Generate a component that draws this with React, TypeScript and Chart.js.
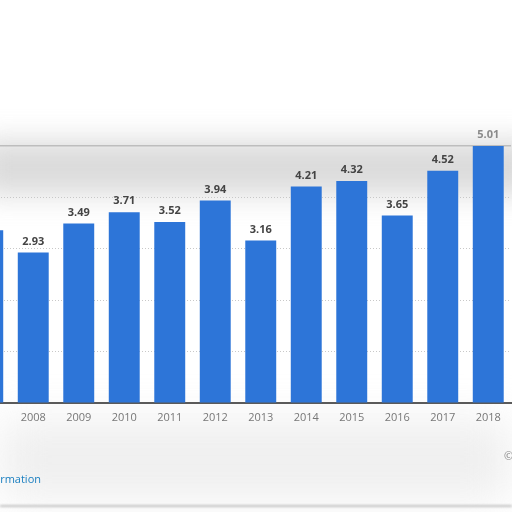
import React, { useEffect, useRef } from "react";
import { Chart, registerables } from "chart.js";

Chart.register(...registerables);

const years = ["2007", "2008", "2009", "2010", "2011", "2012", "2013", "2014", "2015", "2016", "2017", "2018"];
const values = [3.36, 2.93, 3.49, 3.71, 3.52, 3.94, 3.16, 4.21, 4.32, 3.65, 4.52, 5.01];
const yMin = 0;
const yMax = 5;
const yStep = 1;

const BAR = "#2d75d8";

const valueLabels = {
  id: "valueLabels",
  afterDatasetsDraw(chart: any) {
    const ctx = chart.ctx;
    const meta = chart.getDatasetMeta(0);
    ctx.save();
    ctx.font = 'bold 11px "Open Sans", sans-serif';
    ctx.textAlign = "center";
    ctx.textBaseline = "middle";
    meta.data.forEach((bar: any, i: number) => {
      const v = values[i];
      ctx.fillStyle = v > yMax ? "#8a8a8a" : "#444444";
      ctx.fillText(v.toFixed(2), bar.x, bar.y - 11);
    });
    ctx.restore();
  },
};

export default function App() {
  const ref = useRef<HTMLCanvasElement | null>(null);
  useEffect(() => {
    if (!ref.current) return;
    const chart = new Chart(ref.current, {
      type: "bar",
      data: {
        labels: years,
        datasets: [
          {
            data: values,
            backgroundColor: BAR,
            categoryPercentage: 1,
            barPercentage: 0.68,
          },
        ],
      },
      options: {
        animation: false,
        responsive: false,
        maintainAspectRatio: false,
        layout: { padding: { top: 146, left: 25, right: 1, bottom: 0 } },
        plugins: { legend: { display: false }, tooltip: { enabled: false } },
        scales: {
          x: {
            grid: { display: false, drawTicks: false },
            border: { display: true, color: "#5a5a5a", width: 2 },
            ticks: {
              padding: 8,
              color: "#777777",
              font: { family: '"Open Sans", sans-serif', size: 11 },
              maxRotation: 0,
            },
            afterFit: (s: any) => {
              s.height = 109;
            },
          },
          y: {
            min: yMin,
            max: yMax,
            ticks: { display: false, stepSize: yStep },
            grid: {
              drawTicks: false,
              color: (c: any) => (c.tick && c.tick.value === yMax ? "#bdbdbd" : c.tick && c.tick.value === yMin ? "rgba(0,0,0,0)" : "#c8c8c8"),
              lineWidth: (c: any) => (c.tick && c.tick.value === yMax ? 1.5 : 1),
            },
            border: {
              display: false,
              dash: (c: any) => (c.tick && c.tick.value === yMax ? [] : [1, 2]),
            },
            afterFit: (s: any) => {
              s.width = 0;
            },
          },
        },
      },
      plugins: [valueLabels],
    });
    return () => chart.destroy();
  }, []);

  return (
    <div
      style={{
        position: "fixed",
        left: 0,
        top: 0,
        width: 512,
        height: 512,
        overflow: "hidden",
        background: "#ffffff",
        fontFamily: '"Open Sans", sans-serif',
      }}
    >
      <div style={{ position: "absolute", left: -20, top: 140, width: 560, height: 55, background: "#cfcfcf", filter: "blur(14px)", opacity: 0.75 }} />
      <div style={{ position: "absolute", left: 0, top: 420, width: 512, height: 80, background: "#e8e8e8", filter: "blur(22px)", opacity: 0.7 }} />
      <div style={{ position: "absolute", left: 0, top: 505, width: 512, height: 2, background: "#c4c4c4", filter: "blur(1px)" }} />
      <canvas ref={ref} width={572} height={512} style={{ position: "absolute", left: -60, top: 0, width: 572, height: 512 }} />
      <div style={{ position: "absolute", right: 471, top: 471, fontSize: 11, color: "#1a7fc0", whiteSpace: "nowrap" }}>
        Additional Information
      </div>
      <div style={{ position: "absolute", left: 504, top: 448, fontSize: 11, color: "#888", whiteSpace: "nowrap" }}>
        © Statista 2019
      </div>
    </div>
  );
}
